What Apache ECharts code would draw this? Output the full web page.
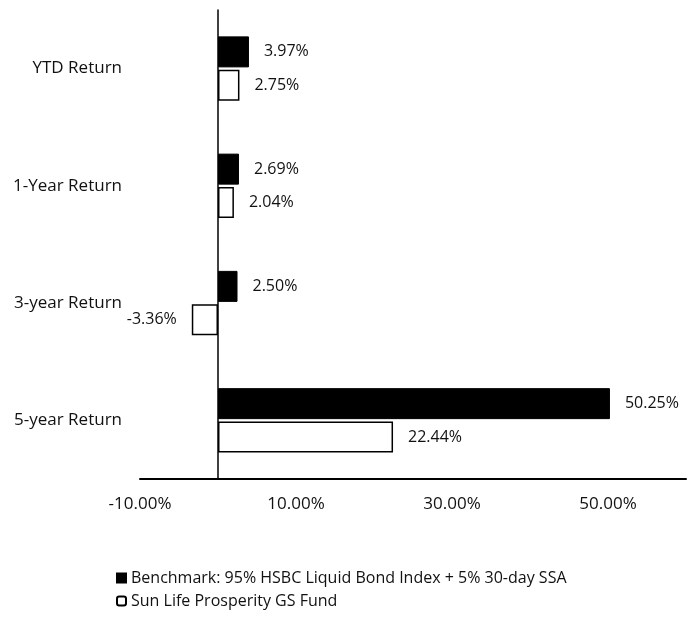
<!DOCTYPE html>
<html>
<head>
<meta charset="utf-8">
<script src="https://cdn.jsdelivr.net/npm/echarts@6/dist/echarts.min.js"></script>
<style>html,body{margin:0;padding:0;background:#fff;}#c{width:689px;height:619px;}</style>
</head>
<body>
<div id="c"></div>
<script>
const categories = ['YTD Return', '1-Year Return', '3-year Return', '5-year Return'];
const benchmarkValues = [3.97, 2.69, 2.50, 50.25];
const fundValues = [2.75, 2.04, -3.36, 22.44];
const seriesNames = ['Benchmark: 95% HSBC Liquid Bond Index + 5% 30-day SSA', 'Sun Life Prosperity GS Fund'];
const tickLabels = [-10, 10, 30, 50];

const FONT = 'Open Sans';
function mkData(vals) {
  return vals.map(v => ({
    value: v,
    label: { position: v < 0 ? 'left' : 'right' }
  }));
}
const chart = echarts.init(document.getElementById('c'));
chart.setOption({
  backgroundColor: '#fff',
  animation: false,
  grid: { left: 140, right: 3, top: 10, bottom: 140, containLabel: false, outerBoundsMode: 'none' },
  xAxis: {
    type: 'value', min: -10, max: 60, interval: 10,
    axisLine: { show: true, onZero: false, lineStyle: { color: '#000', width: 2 } },
    axisTick: { show: false },
    splitLine: { show: false },
    axisLabel: {
      margin: 17, color: '#111', fontFamily: FONT, fontSize: 17,
      formatter: v => tickLabels.indexOf(v) >= 0 ? v.toFixed(2) + '%' : ''
    }
  },
  yAxis: {
    type: 'category', data: categories, inverse: true,
    axisLine: { show: true, onZero: true, lineStyle: { color: '#000', width: 1.5 } },
    axisTick: { show: false },
    axisLabel: { margin: 18, color: '#111', fontFamily: FONT, fontSize: 17 }
  },
  legend: {
    orient: 'vertical', left: 116, top: 570, padding: 0, itemWidth: 9, itemHeight: 9, itemGap: 7,
    textStyle: { color: '#111', fontFamily: FONT, fontSize: 16 },
    data: [
      { name: seriesNames[0], icon: 'rect' },
      { name: seriesNames[1], icon: 'roundRect' }
    ]
  },
  series: [
    {
      name: seriesNames[0], type: 'bar', data: mkData(benchmarkValues),
      barWidth: 31, barGap: '8%',
      itemStyle: { color: '#000', borderColor: '#000', borderWidth: 1 },
      label: { show: true, distance: 15, color: '#111', fontFamily: FONT, fontSize: 16,
        formatter: p => p.value.toFixed(2) + '%' }
    },
    {
      name: seriesNames[1], type: 'bar', data: mkData(fundValues),
      barWidth: 31,
      itemStyle: { color: '#fff', borderColor: '#000', borderWidth: 1.5 },
      label: { show: true, distance: 15, color: '#111', fontFamily: FONT, fontSize: 16,
        formatter: p => p.value.toFixed(2) + '%' }
    }
  ]
});
</script>
</body>
</html>
